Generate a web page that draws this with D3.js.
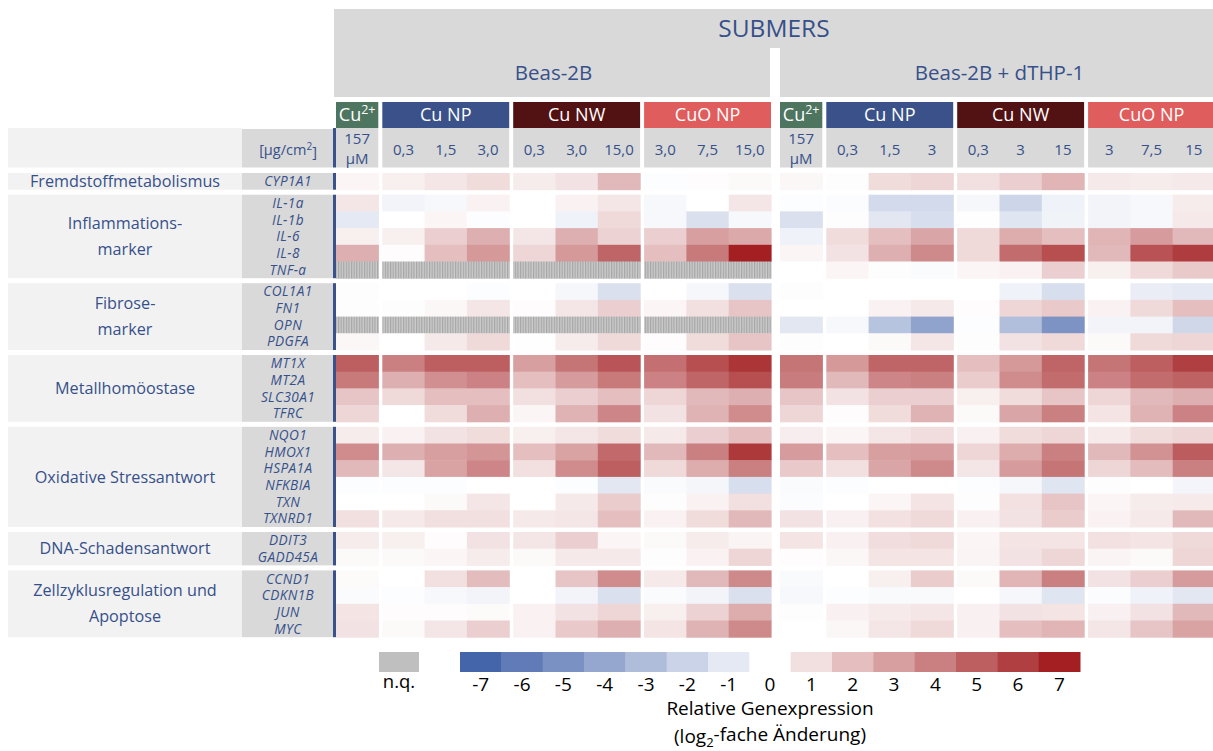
<!DOCTYPE html>
<html>
<head>
<meta charset="utf-8">
<script src="https://cdn.jsdelivr.net/npm/d3@7"></script>
<style>
  body { margin: 0; background: #fff; }
  svg { display: block; font-family: "Open Sans", "Noto Sans", sans-serif; }
</style>
</head>
<body>
<svg id="chart" width="1213" height="751"></svg>
<script>
// ---- data ----
const panels = ["Beas-2B", "Beas-2B + dTHP-1"];
const groups = ["Cu2+", "Cu NP", "Cu NW", "CuO NP"];
const groupOfColumn = [0, 1, 1, 1, 2, 2, 2, 3, 3, 3];
const concLeft = ["157 µM", "0,3", "1,5", "3,0", "0,3", "3,0", "15,0", "3,0", "7,5", "15,0"];
const concRight = ["157 µM", "0,3", "1,5", "3", "0,3", "3", "15", "3", "7,5", "15"];

const sectionLabels = [
  ["Fremdstoffmetabolismus"],
  ["Inflammations-", "marker"],
  ["Fibrose-", "marker"],
  ["Metallhomöostase"],
  ["Oxidative Stressantwort"],
  ["DNA-Schadensantwort"],
  ["Zellzyklusregulation und", "Apoptose"]
];
const sectionGenes = [
  ["CYP1A1"],
  ["IL-1a", "IL-1b", "IL-6", "IL-8", "TNF-a"],
  ["COL1A1", "FN1", "OPN", "PDGFA"],
  ["MT1X", "MT2A", "SLC30A1", "TFRC"],
  ["NQO1", "HMOX1", "HSPA1A", "NFKBIA", "TXN", "TXNRD1"],
  ["DDIT3", "GADD45A"],
  ["CCND1", "CDKN1B", "JUN", "MYC"]
];

// log2 fold change, one row per gene, null = n.q.
const nq = null;
const beasValues = [
  [0.3, 0.5, 0.8, 1.1, 0.6, 0.9, 2.2, -0.1, 0.1, 0.2],
  [0.8, -0.5, -0.3, 0.4, 0, 0.4, 0.8, -0.3, 0, 0.8],
  [-1.0, 0, 0.3, -0.1, 0, -0.6, 1.2, -0.3, -1.4, -0.3],
  [0.5, 0.5, 1.5, 2.5, 0.8, 2.5, 1.4, 1.5, 3.0, 2.7],
  [2.5, 0.1, 2.0, 3.2, 1.3, 3.2, 4.8, 2.0, 4.2, 7.0],
  [nq, nq, nq, nq, nq, nq, nq, nq, nq, nq],
  [0.05, 0, 0, -0.1, 0, -0.35, -1.4, 0, -0.35, -1.4],
  [0.05, 0.05, 0.25, 0.8, 0.1, 0.8, 1.5, 0.3, 1.0, 1.8],
  [nq, nq, nq, nq, nq, nq, nq, nq, nq, nq],
  [0.25, 0, 0.7, 1.2, -0.05, 0.6, 1.2, 0.1, 1.1, 1.8],
  [5.0, 4.0, 5.0, 5.0, 3.0, 4.3, 5.3, 4.5, 5.5, 6.3],
  [4.2, 2.5, 3.5, 3.9, 2.0, 3.1, 4.2, 3.9, 4.8, 5.5],
  [1.8, 1.2, 2.0, 2.0, 1.0, 1.5, 2.0, 1.3, 2.2, 2.5],
  [1.3, 0, 1.1, 2.5, 0.3, 2.4, 3.8, 0.9, 2.4, 3.6],
  [0.6, 0.4, 0.9, 1.1, 0.5, 0.8, 1.1, 0.7, 1.5, 2.0],
  [3.6, 2.5, 3.0, 3.3, 2.0, 2.9, 4.7, 2.2, 4.0, 6.2],
  [2.2, 0.8, 2.9, 3.8, 1.0, 3.6, 5.0, 1.2, 2.6, 4.0],
  [-0.1, -0.1, -0.1, 0, 0, -0.1, -1.1, -0.2, -0.4, -1.5],
  [0, 0, 0.2, 0.8, 0, 0.7, 1.6, 0.05, 0.4, 1.0],
  [1.0, 0.7, 1.0, 1.0, 0.7, 0.8, 2.0, 0.4, 1.1, 2.2],
  [0.6, 0.5, 0.1, 0.9, 0.8, 1.5, 0.3, 0.2, 0.6, 0.35],
  [0.2, 0.2, 0.3, 0.6, 0.2, 0.7, 0.7, 0.05, 0.4, 1.3],
  [0.15, 0, 1.0, 2.1, 0, 1.8, 3.6, 0.7, 2.2, 3.7],
  [-0.2, -0.1, -0.3, -0.5, 0, -0.5, -1.4, -0.2, -0.5, -1.4],
  [0.85, 0.1, 0.1, 0.15, 0.4, 0.9, 1.3, 0.5, 1.4, 2.6],
  [0.9, 0.2, 0.8, 1.5, 0.4, 1.7, 2.5, 0.85, 2.4, 3.7]
];
const coValues = [
  [0.25, 0.05, 1.1, 1.3, 1.0, 1.5, 2.3, 0.7, 0.6, 0.7],
  [-0.1, -0.15, -1.7, -1.7, -0.35, -1.9, -0.6, -0.5, -0.3, 0.6],
  [-1.4, 0.05, -1.1, -1.5, -0.05, -1.2, -0.55, -0.5, -0.3, 0.7],
  [-0.6, 1.1, 2.0, 2.8, 1.2, 2.6, 2.0, 2.3, 3.1, 2.2],
  [0.3, 0.9, 2.5, 3.7, 1.2, 4.6, 5.5, 2.2, 5.4, 6.1],
  [0, 0.3, 0.05, -0.2, 0.3, 0.4, 1.5, 0.5, 1.2, 1.7],
  [0.05, 0, 0, 0, 0, -0.6, -1.5, 0, -0.8, -1.0],
  [0, 0, 0.4, 0.7, 0.1, 1.3, 1.7, 0.4, 1.2, 2.0],
  [-1.1, -0.3, -2.7, -4.2, -0.1, -2.9, -4.9, -0.5, -0.5, -1.8],
  [0.05, 0, 0.2, 0.8, 0.05, 0.9, 1.2, 0.2, 1.2, 1.3],
  [4.3, 3.2, 4.8, 4.8, 2.0, 3.2, 4.8, 4.3, 5.0, 6.0],
  [4.1, 2.2, 3.8, 4.0, 1.6, 3.6, 4.6, 3.9, 4.6, 4.9],
  [1.8, 0.9, 1.5, 1.5, 0.5, 1.1, 1.8, 1.3, 2.2, 2.5],
  [1.3, 0.1, 1.1, 2.4, 0.2, 2.8, 4.0, 0.85, 2.4, 3.9],
  [0.55, 0.3, 0.8, 1.05, 0.45, 1.1, 1.3, 0.65, 1.1, 1.3],
  [3.1, 2.0, 3.0, 3.1, 1.3, 2.6, 4.0, 2.2, 3.4, 5.1],
  [1.7, 1.0, 2.8, 3.7, 0.8, 3.1, 4.3, 1.3, 2.1, 4.0],
  [-0.2, -0.1, 0, 0, -0.1, -0.35, -1.2, 0.05, 0, -0.45],
  [-0.15, 0, 0.3, 0.85, 0.05, 0.95, 1.8, 0.3, 0.6, 0.65],
  [0.9, 0.45, 0.95, 1.2, 0.45, 0.9, 1.6, 0.4, 0.7, 2.2],
  [0.85, 0.45, 1.05, 1.2, 0.3, 0.85, 0.85, 0.95, 0.85, 1.2],
  [0.1, 0.25, 0.85, 0.85, 0.35, 0.9, 1.3, 0.35, 0.2, 1.3],
  [-0.25, 0, 0.5, 1.6, 0.2, 2.3, 4.0, 0.9, 1.5, 3.1],
  [-0.3, -0.1, -0.25, -0.25, 0, -0.35, -1.2, -0.15, -0.6, -1.1],
  [0.05, 0.45, 0.65, 0.8, 0.45, 0.9, 0.85, 0.45, 0.9, 2.2],
  [0, 0.25, 0.8, 1.2, 0.45, 2.0, 2.3, 0.8, 1.8, 2.9]
];
const panelValues = [beasValues, coValues];
const legendTicks = [-7, -6, -5, -4, -3, -2, -1, 0, 1, 2, 3, 4, 5, 6, 7];

// ---- styles ----
const textBlue = "#36508a";
const groupColors = { "Cu2+": "#4e7560", "Cu NP": "#3a5289", "Cu NW": "#521213", "CuO NP": "#df5d5d" };
const color = d3.scaleLinear()
  .domain([-7, 0, 7])
  .range(["#4565ab", "#ffffff", "#a31f22"])
  .clamp(true);

const svg = d3.select("#chart");
const defs = svg.append("defs");
const pat = defs.append("pattern")
  .attr("id", "nq")
  .attr("patternUnits", "userSpaceOnUse")
  .attr("width", 2.6)
  .attr("height", 4);
pat.append("rect").attr("width", 2.6).attr("height", 4).attr("fill", "#cbcbcb");
pat.append("rect").attr("width", 1.2).attr("height", 4).attr("fill", "#a6a6a6");

// ---- layout scales ----
const rowH = 16.7, secGap = 5, gridTop = 173, groupGap = 4;
const panelX = d3.scalePoint().domain(panels).range([336, 780]);
const colUnit = d3.scaleLinear().domain([0, 10]).range([0, 423]);
const rowUnit = d3.scaleLinear().domain([0, 1]).range([gridTop, gridTop + rowH]);
const cw = colUnit(1) - colUnit(0);

const colX = (p, c) => panelX(p) + colUnit(c) + groupOfColumn[c] * groupGap;

const rows = [];
sectionGenes.forEach((genes, s) => genes.forEach(g => rows.push({ gene: g, section: s })));
const rowY = i => rowUnit(i) + rows[i].section * secGap;

const sections = sectionGenes.map((genes, s) => {
  const first = rows.findIndex(r => r.section === s);
  return { s, y0: rowY(first), y1: rowY(first) + genes.length * rowH };
});

// ---- top header ----
svg.append("rect").attr("x", 334).attr("y", 9).attr("width", 1213 - 334).attr("height", 88).attr("fill", "#d9d9d9");
svg.append("rect").attr("x", 770).attr("y", 48).attr("width", 10).attr("height", 50).attr("fill", "#fff");
svg.append("text")
  .attr("x", 774).attr("y", 28).attr("dy", "0.35em")
  .attr("text-anchor", "middle").attr("font-size", 24.5).attr("fill", textBlue)
  .text("SUBMERS");
panels.forEach(p => {
  const x0 = colX(p, 0), x1 = Math.min(colX(p, 9) + cw, 1213);
  svg.append("text")
    .attr("x", p === panels[0] ? (x0 + x1) / 2 : (x0 + x1) / 2 + 3).attr("y", 73).attr("dy", "0.35em")
    .attr("text-anchor", "middle").attr("font-size", 20.5).attr("fill", textBlue)
    .text(p);
});

// group headers + concentration row
panels.forEach((p, pi) => {
  const conc = pi === 0 ? concLeft : concRight;
  groups.forEach((g, gi) => {
    const cols = groupOfColumn.map((v, i) => v === gi ? i : -1).filter(i => i >= 0);
    const x0 = colX(p, cols[0]);
    const w = cols.length * cw;
    svg.append("rect").attr("x", x0).attr("y", 102).attr("width", w).attr("height", 26).attr("fill", groupColors[g]);
    const t = svg.append("text")
      .attr("x", x0 + w / 2).attr("y", 115).attr("dy", "0.35em")
      .attr("text-anchor", "middle").attr("font-size", 18).attr("fill", "#fff");
    if (g === "Cu2+") {
      t.append("tspan").text("Cu");
      t.append("tspan").attr("font-size", 12.5).attr("dy", "-0.55em").text("2+");
    } else {
      t.text(g);
    }
    svg.append("rect").attr("x", x0).attr("y", 128).attr("width", w).attr("height", 39.5).attr("fill", "#d9d9d9");
    cols.forEach(c => {
      const cx = colX(p, c) + cw / 2;
      const label = conc[c];
      if (label.includes(" ")) {
        label.split(" ").forEach((part, k) => {
          svg.append("text")
            .attr("x", cx).attr("y", 139 + k * 20).attr("dy", "0.35em")
            .attr("text-anchor", "middle").attr("font-size", 15).attr("fill", textBlue)
            .text(part);
        });
      } else {
        svg.append("text")
          .attr("x", cx).attr("y", 150).attr("dy", "0.35em")
          .attr("text-anchor", "middle").attr("font-size", 15).attr("fill", textBlue)
          .text(label);
      }
    });
  });
});

// ---- left label column ----
svg.append("rect").attr("x", 8).attr("y", 128).attr("width", 234).attr("height", 39.5).attr("fill", "#f2f2f2");
svg.append("rect").attr("x", 242).attr("y", 129).attr("width", 91).attr("height", 38.5).attr("fill", "#d9d9d9");
svg.append("rect").attr("x", 333).attr("y", 128).attr("width", 3).attr("height", 39.5).attr("fill", "#3a5289");
const unit = svg.append("text")
  .attr("x", 288).attr("y", 150).attr("dy", "0.35em")
  .attr("text-anchor", "middle").attr("font-size", 14.5).attr("fill", textBlue);
unit.append("tspan").text("[µg/cm");
unit.append("tspan").attr("font-size", 10).attr("dy", "-0.5em").text("2");
unit.append("tspan").attr("dy", "0.5em").text("]");

sections.forEach(sec => {
  svg.append("rect").attr("x", 8).attr("y", sec.y0).attr("width", 234).attr("height", sec.y1 - sec.y0).attr("fill", "#f2f2f2");
  svg.append("rect").attr("x", 242).attr("y", sec.y0).attr("width", 91).attr("height", sec.y1 - sec.y0).attr("fill", "#d9d9d9");
  svg.append("rect").attr("x", 333).attr("y", sec.y0).attr("width", 3).attr("height", sec.y1 - sec.y0).attr("fill", "#3a5289");
  const lines = sectionLabels[sec.s];
  const mid = (sec.y0 + sec.y1) / 2;
  lines.forEach((line, k) => {
    svg.append("text")
      .attr("x", 125).attr("y", mid + (k - (lines.length - 1) / 2) * 26).attr("dy", "0.35em")
      .attr("text-anchor", "middle").attr("font-size", 16.2).attr("fill", textBlue)
      .text(line);
  });
});

svg.append("g").selectAll("text")
  .data(rows)
  .join("text")
  .attr("x", 288)
  .attr("y", (d, i) => rowY(i) + rowH / 2)
  .attr("dy", "0.35em")
  .attr("text-anchor", "middle")
  .attr("font-size", 13.6)
  .attr("letter-spacing", 0.4)
  .attr("font-style", "italic")
  .attr("fill", textBlue)
  .text(d => d.gene);

// ---- heatmap cells ----
const cells = [];
panels.forEach((p, pi) => {
  panelValues[pi].forEach((row, ri) => {
    row.forEach((v, ci) => cells.push({ p, ri, ci, v }));
  });
});
svg.append("g").selectAll("rect")
  .data(cells)
  .join("rect")
  .attr("x", d => colX(d.p, d.ci))
  .attr("y", d => rowY(d.ri))
  .attr("width", cw + 0.6)
  .attr("height", rowH + 0.5)
  .attr("fill", d => d.v === null ? "url(#nq)" : color(d.v));

// keep the right panel inside the frame
svg.append("rect").attr("x", 1213).attr("y", 0).attr("width", 20).attr("height", 751).attr("fill", "#fff");

// ---- legend ----
const legendX = d3.scaleBand().domain(legendTicks).range([460, 1080]);
const legend = svg.append("g");
legend.selectAll("rect")
  .data(legendTicks)
  .join("rect")
  .attr("x", d => legendX(d))
  .attr("y", 652)
  .attr("width", legendX.bandwidth() + 0.5)
  .attr("height", 20)
  .attr("fill", d => color(d));
legend.append("rect").attr("x", 379).attr("y", 652).attr("width", 40).attr("height", 20).attr("fill", "#bfbfbf");
legend.append("text")
  .attr("x", 399).attr("y", 682).attr("dy", "0.35em")
  .attr("text-anchor", "middle").attr("font-size", 18.5).attr("fill", "#000")
  .text("n.q.");

const legendAxis = legend.append("g")
  .attr("transform", "translate(0,677)")
  .call(d3.axisBottom(legendX).tickSize(0).tickPadding(0).tickFormat(d => String(d)));
legendAxis.select(".domain").remove();
legendAxis.selectAll("text")
  .attr("font-size", 19)
  .attr("font-family", "\"Open Sans\", sans-serif")
  .attr("fill", "#000");

legend.append("text")
  .attr("x", 770).attr("y", 708).attr("dy", "0.35em")
  .attr("text-anchor", "middle").attr("font-size", 19).attr("fill", "#000")
  .text("Relative Genexpression");
const sub = legend.append("text")
  .attr("x", 770).attr("y", 736).attr("dy", "0.35em")
  .attr("text-anchor", "middle").attr("font-size", 19).attr("fill", "#000");
sub.append("tspan").text("(log");
sub.append("tspan").attr("font-size", 13).attr("dy", "0.3em").text("2");
sub.append("tspan").attr("dy", "-0.3em").text("-fache Änderung)");
</script>
</body>
</html>
